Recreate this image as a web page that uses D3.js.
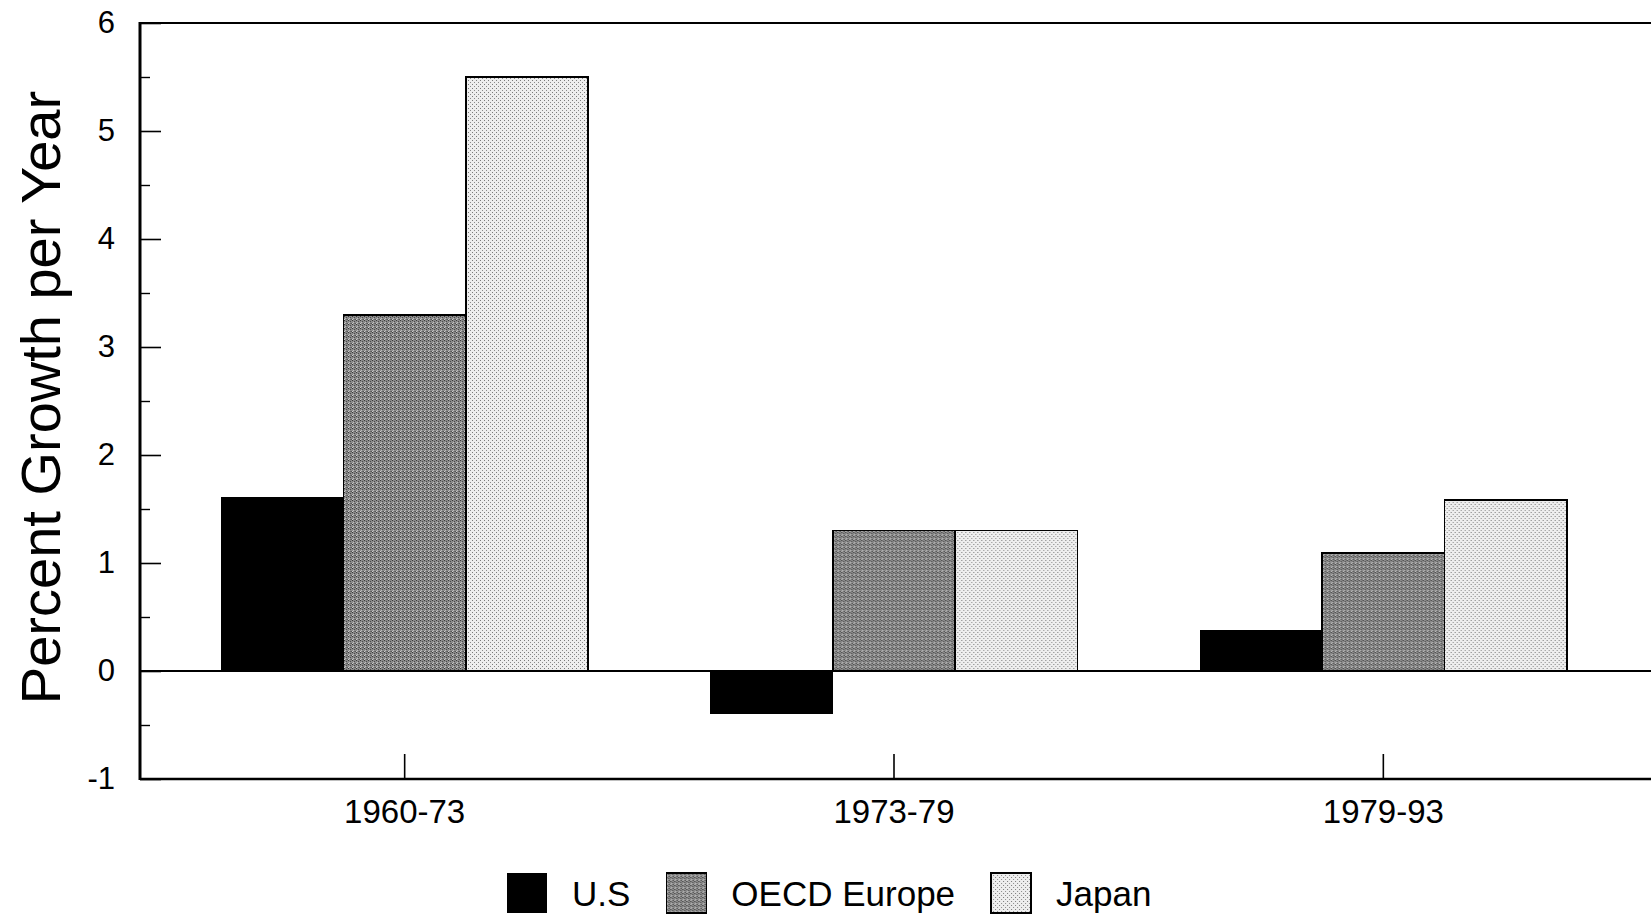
<!DOCTYPE html>
<html>
<head>
<meta charset="utf-8">
<script src="https://cdn.jsdelivr.net/npm/d3@7"></script>
<style>
  html, body { margin: 0; padding: 0; background: #ffffff; }
  svg { display: block; font-family: "Liberation Sans", Arial, Helvetica, sans-serif; }
</style>
</head>
<body>
<script>
// ---- data ----
const categories = ["1960-73", "1973-79", "1979-93"];
const series = ["U.S", "OECD Europe", "Japan"];
const usValues = [1.61, -0.40, 0.38];
const oecdValues = [3.30, 1.30, 1.09];
const japanValues = [5.50, 1.30, 1.58];
const yTickValues = [-1, 0, 1, 2, 3, 4, 5, 6];
const yMinorTickValues = [-0.5, 0.5, 1.5, 2.5, 3.5, 4.5, 5.5];
const yTitle = "Percent Growth per Year";

(function () {
const seriesValues = [usValues, oecdValues, japanValues];
const rows = categories.map((c, i) => ({
  category: c,
  values: series.map((s, j) => ({ series: s, value: seriesValues[j][i] }))
}));

// ---- layout ----
const W = 1651, H = 916;
const plotLeft = 140, plotRight = 1651, plotTop = 23, plotBottom = 779;

const svg = d3.select("body").append("svg")
  .attr("width", W).attr("height", H);

// patterns
const defs = svg.append("defs");
const pOecd = defs.append("pattern").attr("id", "pat-oecd")
  .attr("width", 4).attr("height", 4).attr("patternUnits", "userSpaceOnUse");
pOecd.append("rect").attr("width", 4).attr("height", 4).attr("fill", "#8a8a8a");
[[0,0,"#3a3a3a"],[2,1,"#4a4a4a"],[1,2,"#bdbdbd"],[3,3,"#555555"],[0,3,"#cfcfcf"],[2,3,"#6a6a6a"]].forEach(d => {
  pOecd.append("rect").attr("x", d[0]).attr("y", d[1]).attr("width", 1).attr("height", 1).attr("fill", d[2]);
});
const pJapan = defs.append("pattern").attr("id", "pat-japan")
  .attr("width", 4).attr("height", 4).attr("patternUnits", "userSpaceOnUse");
pJapan.append("rect").attr("width", 4).attr("height", 4).attr("fill", "#eeeeee");
[[0,0,"#7a7a7a"],[2,2,"#8a8a8a"]].forEach(d => {
  pJapan.append("rect").attr("x", d[0]).attr("y", d[1]).attr("width", 1).attr("height", 1).attr("fill", d[2]);
});

const fills = { "U.S": "#000000", "OECD Europe": "url(#pat-oecd)", "Japan": "url(#pat-japan)" };
const strokes = { "U.S": "none", "OECD Europe": "#000000", "Japan": "#000000" };

// scales
const y = d3.scaleLinear().domain([-1, 6]).range([plotBottom, plotTop]);
const x0 = d3.scaleBand().domain(categories).range([plotLeft - 3, plotRight]).paddingInner(0).paddingOuter(0.047);
const x1 = d3.scaleBand().domain(series).range([0, x0.bandwidth()]).paddingInner(0).paddingOuter(0.5);

// bars
const groups = svg.append("g").selectAll("g").data(rows).join("g")
  .attr("transform", d => `translate(${x0(d.category)},0)`);
groups.selectAll("rect").data(d => d.values).join("rect")
  .attr("x", d => x1(d.series))
  .attr("width", x1.bandwidth())
  .attr("y", d => y(Math.max(0, d.value)))
  .attr("height", d => Math.abs(y(d.value) - y(0)))
  .attr("fill", d => fills[d.series])
  .attr("stroke", d => strokes[d.series])
  .attr("stroke-width", 1.8)
  .attr("shape-rendering", "crispEdges");

// zero line
svg.append("line")
  .attr("x1", plotLeft).attr("x2", plotRight)
  .attr("y1", y(0)).attr("y2", y(0))
  .attr("stroke", "#000").attr("stroke-width", 2.2);

// frame lines (top, left, bottom)
svg.append("line").attr("x1", plotLeft).attr("x2", plotRight).attr("y1", plotTop).attr("y2", plotTop)
  .attr("stroke", "#000").attr("stroke-width", 2);
svg.append("line").attr("x1", plotLeft).attr("x2", plotRight).attr("y1", plotBottom).attr("y2", plotBottom)
  .attr("stroke", "#000").attr("stroke-width", 2.4);
svg.append("line").attr("x1", plotLeft).attr("x2", plotLeft).attr("y1", plotTop - 1).attr("y2", plotBottom + 1)
  .attr("stroke", "#000").attr("stroke-width", 3);

// y axis (major, inward ticks)
const yAxis = svg.append("g").attr("transform", `translate(${plotLeft},0)`)
  .call(d3.axisLeft(y).tickValues(yTickValues).tickSize(-21).tickPadding(25).tickFormat(d => String(d)));
yAxis.select(".domain").remove();
yAxis.selectAll(".tick line").attr("stroke", "#000").attr("stroke-width", 1.6);
yAxis.selectAll(".tick text")
  .attr("font-size", 31).attr("fill", "#000")
  .attr("font-family", "'Liberation Sans', Arial, sans-serif");

// y axis minor ticks
const yMinor = svg.append("g").attr("transform", `translate(${plotLeft},0)`)
  .call(d3.axisLeft(y).tickValues(yMinorTickValues).tickSize(-10).tickFormat(""));
yMinor.select(".domain").remove();
yMinor.selectAll(".tick line").attr("stroke", "#000").attr("stroke-width", 1.4);

// x axis
const xAxis = svg.append("g").attr("transform", `translate(0,${plotBottom})`)
  .call(d3.axisBottom(x0).tickSize(-25).tickPadding(21));
xAxis.select(".domain").remove();
xAxis.selectAll(".tick line").attr("stroke", "#000").attr("stroke-width", 1.6);
xAxis.selectAll(".tick text")
  .attr("font-size", 33).attr("fill", "#000")
  .attr("font-family", "'Liberation Sans', Arial, sans-serif");

// y title
svg.append("text")
  .attr("transform", `translate(60,${(84 + 711) / 2}) rotate(-90)`)
  .attr("text-anchor", "middle")
  .attr("font-size", 56)
  .attr("fill", "#000")
  .text(yTitle);

// legend
const legend = svg.append("g").attr("transform", "translate(507,873)");
let lx = 0;
series.forEach(s => {
  const item = legend.append("g").attr("transform", `translate(${lx},0)`);
  item.append("rect")
    .attr("width", 40).attr("height", 40)
    .attr("fill", fills[s])
    .attr("stroke", strokes[s]).attr("stroke-width", 1.6)
    .attr("shape-rendering", "crispEdges");
  const t = item.append("text")
    .attr("x", 65).attr("y", 33)
    .attr("font-size", 35).attr("fill", "#000")
    .text(s);
  lx += 65 + t.node().getComputedTextLength() + 36;
});
})();
</script>
</body>
</html>
